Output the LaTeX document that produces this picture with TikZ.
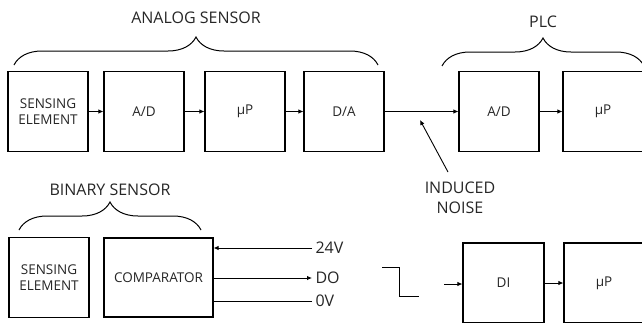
\documentclass[tikz,border=0pt]{standalone}
\usepackage{fontspec}
\setmainfont{Open Sans}
\usepackage{tikz}
\usetikzlibrary{arrows.meta,decorations.pathreplacing}
\colorlet{linecol}{black}
\colorlet{textcol}{black!85!white}
\tikzset{
  every node/.style={font=\fontsize{13.5}{16}\selectfont, text=textcol},
  block/.style={draw=linecol, line width=1.1pt, minimum width=80pt,
    minimum height=80pt, align=center, inner sep=0pt},
  wire/.style={line width=0.9pt, draw=linecol},
  brace/.style={decorate, line width=1pt, draw=linecol,
    decoration={brace, amplitude=28pt, aspect=0.5}},
  title/.style={font=\fontsize{16}{20}\selectfont},
}

\begin{document}
\begin{tikzpicture}[x=1pt, y=-1pt, >={Latex[length=5pt,width=4.5pt]}]

  \useasboundingbox (0,0) rectangle (642,322);
  \begin{scope}
  \clip (0,0) rectangle (642,322);

  % Analog sensor chain.
  \node[block] (sens) at (48,111.5) {SENSING\\ELEMENT};
  \node[block] (ad)   at (144,111.5) {A/D};
  \node[block] (up)   at (245,111.5) {µP};
  \node[block] (da)   at (344,111.5) {D/A};

  % PLC.
  \node[block] (plcad) at (499,111.5) {A/D};
  \node[block] (plcup) at (603,111.5) {µP};

  \draw[wire, ->] (sens) -- (ad);
  \draw[wire, ->] (ad) -- (up);
  \draw[wire, ->] (up) -- (da);
  \draw[wire, ->] (da) -- (plcad);
  \draw[wire, ->] (plcad) -- (plcup);

  % Braces with titles.
  \draw[brace] (14,65) -- (378,65)
    node[midway, yshift=47pt, title] {ANALOG SENSOR};
  \draw[brace] (442,66) -- (644,66)
    node[midway, yshift=44pt, title] {PLC};

  % Induced noise.
  \node[title, align=center] (noise) at (460,198) {INDUCED\\NOISE};
  \coordinate (noisetail) at (448,172);
  \coordinate (noisetip)  at (420,120);
  \draw[wire, ->] (noisetail) -- (noisetip);

  % Binary sensor.
  \node[block] (bsens) at (49,277.5) {SENSING\\ELEMENT};
  \node[block, minimum width=109pt, minimum height=79pt] (comp)
    at (158.5,277.5) {COMPARATOR};
  \draw[brace] (19,230) -- (201,230)
    node[midway, yshift=40pt, title] {BINARY SENSOR};

  % Supply and output lines.
  \node[title, anchor=west] (v24) at (312,248) {24V};
  \node[title, anchor=west] (vdo) at (312,278) {DO};
  \node[title, anchor=west] (v0)  at (312,301) {0V};
  \draw[wire, ->] (v24.west) -- (v24.west -| comp.east);
  \draw[wire, <-] (vdo.west) -- (vdo.west -| comp.east);
  \draw[wire] (v0.west) -- (v0.west -| comp.east);

  % Falling edge.
  \draw[wire] (382,267) -- (399,267) -- (399,296) -- (419,296);

  % Digital input.
  \node[block, minimum width=81pt] (di) at (503.5,283) {DI};
  \node[block] (diup) at (604,283) {µP};
  \coordinate (din) at (444,284);
  \draw[wire, ->] (din) -- (din -| di.west);
  \draw[wire, ->] (di) -- (diup);

  \end{scope}
\end{tikzpicture}
\end{document}
